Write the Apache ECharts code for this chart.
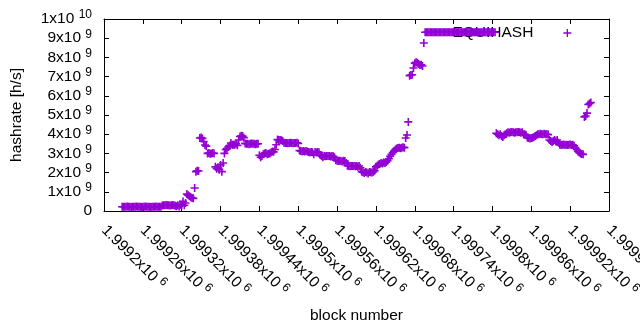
<!DOCTYPE html>
<html>
<head>
<meta charset="utf-8">
<script src="https://cdn.jsdelivr.net/npm/echarts@6/dist/echarts.min.js"></script>
<style>
  html, body { margin: 0; padding: 0; background: #fff; }
  #chart { width: 640px; height: 330px; }
</style>
</head>
<body>
<div id="chart"></div>
<script>
// hashrate in units of 1e9 h/s, one value every 2 blocks, each run starts at its own block
const blockStep = 2;

const lowRun = [
  0.22, 0.22, 0.22, 0.22, 0.23, 0.22, 0.22, 0.21, 0.22, 0.22,
  0.22, 0.23, 0.22, 0.22, 0.22, 0.21, 0.22, 0.22, 0.23, 0.22,
  0.22, 0.22, 0.21, 0.22, 0.22, 0.22, 0.23, 0.22, 0.22, 0.22,
  0.22,
  0.29, 0.3, 0.3, 0.31, 0.3, 0.3, 0.29, 0.3, 0.31, 0.3,
  0.27, 0.25, 0.3, 0.24, 0.33, 0.28, 0.5, 0.3, 0.42
];
const firstClimb = [
  0.88, 0.82, 0.77, 0.72, 0.68, 0.66, 1.2, 2.05, 2.1, 2.08,
  3.8, 3.83, 3.78, 3.62, 3.44, 3.38,
  3.0, 3.02, 2.98, 3.0, 3.02, 3.0, 2.3, 2.2, 2.28, 2.15, 2.4,
  2.05, 2.5, 3.0, 3.2, 3.25, 3.33, 3.4, 3.54, 3.45, 3.45
];
const firstPlateau = [
  3.45, 3.5, 3.42,
  3.7, 3.88, 3.92, 3.9, 3.82,
  3.52, 3.5, 3.5, 3.48, 3.5, 3.52, 3.5, 3.5, 3.48, 3.5, 3.5,
  2.9, 2.8, 2.86, 2.95,
  3.0, 3.02, 2.95, 2.98, 3.0, 3.05, 3.1, 3.08,
  3.2, 3.45,
  3.72, 3.7, 3.7, 3.68, 3.65,
  3.55, 3.54, 3.54, 3.53, 3.54, 3.55, 3.54, 3.53, 3.54, 3.54, 3.55, 3.52
];
const slowDecline = [
  3.15, 3.12, 3.1, 3.12, 3.1, 3.12, 3.1,
  3.07, 3.05, 3.07, 3.06, 2.95, 3.07, 3.05, 3.07, 3.06,
  2.92, 2.86, 2.8,
  2.86, 2.85, 2.86, 2.87, 2.86, 2.84, 2.86, 2.85, 2.8,
  2.64, 2.62, 2.6, 2.62, 2.6, 2.58, 2.62, 2.6, 2.5,
  2.36, 2.34, 2.33, 2.34, 2.35, 2.34, 2.33, 2.34, 2.3, 2.34, 2.25
];
const trough = [
  2.05, 2.02, 1.98, 2.03, 2.0, 1.95, 2.03, 2.02, 2.0, 2.04, 2.1,
  2.3, 2.36, 2.42, 2.45, 2.5, 2.48, 2.52, 2.5,
  2.55, 2.62, 2.72, 2.85, 2.95, 3.05, 3.12,
  3.2, 3.25, 3.28, 3.3, 3.27, 3.3, 3.32, 3.3,
  3.8, 3.96, 4.64
];
const surge = [7.05, 7.08, 7.1, 7.45, 7.7, 7.75, 7.72, 7.65, 7.6, 7.62, 7.55, 8.75];
const capped = [
  9.31, 9.31, 9.31, 9.31, 9.31, 9.31, 9.31, 9.31, 9.31, 9.31, 9.31,
  9.31, 9.31, 9.31, 9.31, 9.31, 9.31, 9.31, 9.31, 9.31, 9.31, 9.31,
  9.31, 9.31, 9.31, 9.31, 9.31, 9.31, 9.31, 9.31, 9.31, 9.31, 9.31,
  9.31, 9.31, 9.31, 9.31, 9.31, 9.31, 9.31, 9.31, 9.31, 9.31, 9.31,
  9.31, 9.31, 9.31, 9.31, 9.31, 9.31, 9.31, 9.31, 9.31, 9.31, 9.31
];
const lateRun = [
  4.05, 4.0, 3.95, 4.0, 3.9, 3.85, 3.95, 4.0, 4.05,
  4.1, 4.08, 4.1, 4.12, 4.1, 4.08, 4.1, 4.1, 4.12, 4.1, 4.08, 4.1,
  4.0, 4.0, 3.95,
  3.82, 3.8, 3.78, 3.8, 3.82, 3.85, 3.9,
  3.95, 4.0, 4.0, 4.02, 4.0, 4.0, 4.02, 4.0, 4.0, 3.98,
  3.7, 3.65, 3.6, 3.65, 3.7, 3.62,
  3.7, 3.55,
  3.45, 3.44, 3.45, 3.46, 3.44, 3.45, 3.44, 3.45, 3.46, 3.44, 3.45, 3.4,
  3.3, 3.2, 3.1, 3.05, 3.0, 2.97, 2.95
];
const finalClimb = [4.9, 4.95, 5.1, 5.55, 5.6, 5.65];

const runs = [
  [1999228, lowRun],
  [1999328, firstClimb],
  [1999402, firstPlateau],
  [1999502, slowDecline],
  [1999598, trough],
  [1999672, surge],
  [1999696, capped],
  [1999806, lateRun],
  [1999942, finalClimb]
];

const xTicks = ['1.9992', '1.99926', '1.99932', '1.99938', '1.99944', '1.9995', '1.99956',
  '1.99962', '1.99968', '1.99974', '1.9998', '1.99986', '1.99992', '1.99998'];
const yTickMantissa = ['0', '1', '2', '3', '4', '5', '6', '7', '8', '9', '1'];
const yTickExponent = ['', '9', '9', '9', '9', '9', '9', '9', '9', '9', '10'];

const xMin = 1999200, xMax = 1999980, xStep = 60;

const points = [];
runs.forEach(function (r) {
  r[1].forEach(function (v, i) { points.push([r[0] + i * blockStep, v]); });
});

const violet = '#9400d3';
const plus = 'path://M0,4L8,4M4,0L4,8';
const font = "'Liberation Sans', Arial, sans-serif";
const rich = {
  m: { fontSize: 15.5, lineHeight: 20, fontFamily: font, color: '#000' },
  s: { fontSize: 12, lineHeight: 12, verticalAlign: 'top', fontFamily: font, color: '#000' }
};

function frame(extra) {
  return Object.assign({
    axisLine: { show: true, onZero: false, lineStyle: { color: '#000', width: 1 } },
    axisTick: { inside: true, length: 5, lineStyle: { color: '#000', width: 1 } },
    splitLine: { show: false }
  }, extra);
}

const chart = echarts.init(document.getElementById('chart'), null, { renderer: 'canvas' });

chart.setOption({
  backgroundColor: '#fff',
  animation: false,
  textStyle: { fontFamily: font },
  grid: { left: 104, right: 31, top: 19, bottom: 119, outerBoundsMode: 'none' },
  legend: {
    data: ['EQUIHASH'],
    right: 63,
    top: 20,
    z: 1,
    align: 'right',
    icon: plus,
    itemWidth: 8,
    itemHeight: 8,
    selectedMode: false,
    itemStyle: { color: violet, borderColor: violet, borderWidth: 1.3 },
    textStyle: { fontSize: 15.5, color: '#000', fontFamily: font, padding: [0, 25, 0, 0] }
  },
  xAxis: [
    frame({
      type: 'value', position: 'bottom', min: xMin, max: xMax, interval: xStep,
      name: 'block number', nameLocation: 'middle', nameGap: 97, nameMoveOverlap: false,
      nameTextStyle: { fontSize: 15.5, color: '#000', fontFamily: font },
      axisLabel: {
        rotate: -45, margin: 17, fontSize: 15.5, color: '#000', rich: rich,
        formatter: function (v) {
          const i = Math.round((v - xMin) / xStep);
          return '{m|' + xTicks[i] + 'x10} {s|6}';
        }
      }
    }),
    frame({
      type: 'value', position: 'top', min: xMin, max: xMax, interval: xStep,
      axisLabel: { show: false }
    })
  ],
  yAxis: [
    frame({
      type: 'value', position: 'left', min: 0, max: 10, interval: 1,
      name: 'hashrate [h/s]', nameLocation: 'middle', nameGap: 79, nameMoveOverlap: false,
      nameTextStyle: { fontSize: 15.5, color: '#000', fontFamily: font },
      axisLabel: {
        margin: 12, fontSize: 15.5, color: '#000', rich: rich,
        formatter: function (v) {
          const i = Math.round(v);
          if (!yTickExponent[i]) return '{m|' + yTickMantissa[i] + '}';
          return '{m|' + yTickMantissa[i] + 'x10} {s|' + yTickExponent[i] + '}';
        }
      }
    }),
    frame({
      type: 'value', position: 'right', min: 0, max: 10, interval: 1,
      axisLabel: { show: false }
    })
  ],
  series: [{
    name: 'EQUIHASH',
    type: 'scatter',
    z: 2,
    data: points,
    symbol: plus,
    symbolSize: 8,
    itemStyle: { color: violet, borderColor: violet, borderWidth: 1.6, opacity: 1 },
    emphasis: { disabled: true },
    large: false
  }]
});
</script>
</body>
</html>
